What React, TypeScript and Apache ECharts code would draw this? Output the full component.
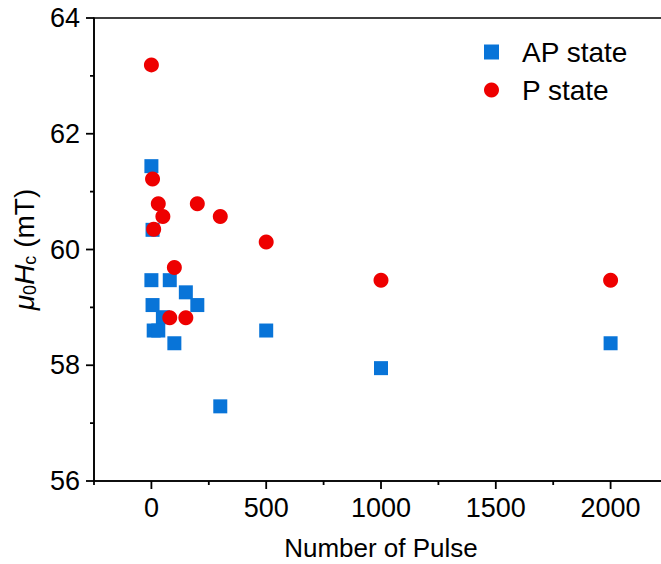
import React, { useEffect, useRef } from "react";
import * as echarts from "echarts";

const xAP = [0, 5, 0, 80, 150, 5, 200, 50, 10, 30, 100, 500, 300, 1000, 2000];
const yAP = [61.44, 60.34, 59.47, 59.47, 59.26, 59.04, 59.04, 58.83, 58.6, 58.6, 58.38, 58.6, 57.29, 57.95, 58.38];
const xP = [0, 5, 10, 30, 50, 100, 80, 150, 200, 300, 500, 1000, 2000];
const yP = [63.19, 61.22, 60.35, 60.79, 60.57, 59.69, 58.82, 58.82, 60.79, 60.57, 60.13, 59.47, 59.47];

const xMajorTicks = [0, 500, 1000, 1500, 2000];
const xMinorTicks = [-250, 250, 750, 1250, 1750];
const yMajorTicks = [56, 58, 60, 62, 64];
const yMinorTicks = [57, 59, 61, 63];
const seriesNames = ["AP state", "P state"];

const FONT = "Liberation Sans, Arial, sans-serif";
const X_MIN = -250;
const X_MAX = 2250;
const Y_MIN = 56;
const Y_MAX = 64;

export default function App() {
  const ref = useRef<HTMLDivElement>(null);
  useEffect(() => {
    if (!ref.current) return;
    const chart = echarts.init(ref.current, null, { renderer: "svg" });
    const apData = xAP.map((x, i) => [x, yAP[i]]);
    const pData = xP.map((x, i) => [x, yP[i]]);

    const yTickData = [
      ...yMajorTicks.map((v) => [X_MIN, v, 1]),
      ...yMinorTicks.map((v) => [X_MIN, v, 0]),
    ];

    chart.setOption({
      animation: false,
      backgroundColor: "#fff",
      textStyle: { fontFamily: FONT },
      grid: {
        left: 94,
        top: 18,
        right: 0,
        bottom: 83,
        show: true,
        borderColor: "#000",
        borderWidth: 1.6,
        backgroundColor: "transparent",
        outerBoundsMode: "none",
      },
      legend: {
        orient: "vertical",
        left: 479,
        top: 33,
        itemWidth: 15,
        itemHeight: 15,
        itemGap: 10,
        data: [
          { name: seriesNames[0], icon: "rect" },
          { name: seriesNames[1], icon: "circle" },
        ],
        textStyle: { fontSize: 28, color: "#000", fontFamily: FONT, padding: [0, 0, 0, 18] },
      },
      xAxis: {
        type: "value",
        min: X_MIN,
        max: X_MAX,
        interval: 250,
        name: "Number of Pulse",
        nameLocation: "middle",
        nameGap: 54,
        nameTextStyle: { fontSize: 26, color: "#000", fontFamily: FONT },
        axisLine: { show: true, onZero: false, lineStyle: { color: "#000", width: 1.6 } },
        axisTick: { show: false },
        axisLabel: {
          fontSize: 27,
          color: "#000",
          fontFamily: FONT,
          margin: 13,
          formatter: (v: number) => (v % 500 === 0 ? String(v) : ""),
        },
        splitLine: { show: false },
      },
      yAxis: {
        type: "value",
        min: Y_MIN,
        max: Y_MAX,
        interval: 2,
        name: "{i|μ}{s|0}{i|H}{s|c} (mT)",
        nameLocation: "middle",
        nameGap: 53,
        nameTextStyle: {
          fontSize: 28,
          color: "#000",
          fontFamily: FONT,
          rich: {
            i: { fontSize: 28, fontStyle: "italic", fontFamily: FONT, color: "#000" },
            s: { fontSize: 18, fontFamily: FONT, color: "#000", padding: [12, 0, 0, 0] },
          },
        },
        axisLine: { show: true, onZero: false, lineStyle: { color: "#000", width: 1.6 } },
        axisTick: { show: false },
        minorTick: { show: false },
        axisLabel: { fontSize: 27, color: "#000", fontFamily: FONT, margin: 14 },
        splitLine: { show: false },
      },
      series: [
        {
          name: seriesNames[0],
          type: "scatter",
          symbol: "rect",
          symbolSize: 14,
          itemStyle: { color: "#0874D8", opacity: 1 },
          data: apData,
        },
        {
          name: seriesNames[1],
          type: "scatter",
          symbol: "circle",
          symbolSize: 15,
          itemStyle: { color: "#EE0000", opacity: 1 },
          data: pData,
        },
        {
          type: "custom",
          silent: true,
          clip: false,
          z: 5,
          data: yTickData,
          encode: { x: 0, y: 1 },
          renderItem: (_p: any, api: any) => {
            const p = api.coord([api.value(0), api.value(1)]);
            const len = api.value(2) ? 8 : 4;
            return {
              type: "line",
              shape: { x1: p[0] - len, y1: p[1], x2: p[0], y2: p[1] },
              style: { stroke: "#000", lineWidth: 1.8 },
            };
          },
        },
      ],
    });

    // x-axis ticks placed through the axis scale
    const yBase = chart.convertToPixel({ yAxisIndex: 0 }, Y_MIN) as number;
    const mk = (v: number, len: number) => {
      const x = chart.convertToPixel({ xAxisIndex: 0 }, v) as number;
      return {
        type: "line",
        z: 100,
        silent: true,
        shape: { x1: x, y1: yBase, x2: x, y2: yBase + len },
        style: { stroke: "#000", lineWidth: 1.8 },
      };
    };
    chart.setOption({
      graphic: [...xMajorTicks.map((v) => mk(v, 8)), ...xMinorTicks.map((v) => mk(v, 4))],
    });
    return () => chart.dispose();
  }, []);
  return (
    <div
      style={{
        position: "fixed",
        left: 0,
        top: 0,
        width: 661,
        height: 564,
        overflow: "hidden",
        background: "#fff",
      }}
    >
      <div ref={ref} style={{ width: 668, height: 564 }} />
    </div>
  );
}
